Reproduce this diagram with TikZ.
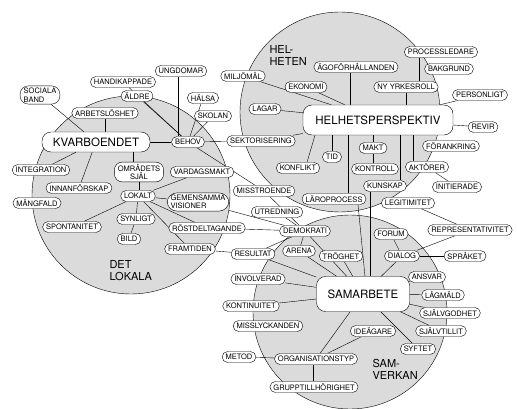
\documentclass[tikz,border=0pt]{standalone}
\usepackage{fontspec}
\setmainfont{TeX Gyre Heros}
\pgfdeclarelayer{back}
\pgfdeclarelayer{wires}
\pgfsetlayers{back,wires,main}

\begin{document}
\begin{tikzpicture}[x=1pt, y=-1pt,
    every node/.style={font=\fontsize{7.5}{8.5}\selectfont},
    kw/.style={draw, fill=white, rounded corners=5.5pt, minimum height=11pt, inner xsep=3.5pt, inner ysep=1pt},
    kwtwo/.style={kw, align=left, rounded corners=8pt, inner ysep=2pt},
    hub/.style={draw, fill=white, rounded corners=9pt, font=\fontsize{11.5}{13}\selectfont},
    area/.style={draw, fill=black!14},
    region/.style={anchor=north west, align=left, font=\fontsize{11}{12}\selectfont}]
    \useasboundingbox (0,0) rectangle (517,409);

    % the three areas
    \begin{pgfonlayer}{back}
        \draw[area] (131,195) circle[radius=99pt];
        \draw[area] (340,112) circle[radius=100pt];
        \draw[area] (350,312) circle[radius=97pt];
    \end{pgfonlayer}
    \node[region] at (266,42) {HEL-\\HETEN};
    \node[region] at (106,257) {DET\\LOKALA};
    \node[region] at (369,356) {SAM-\\VERKAN};

    % hubs
    \node[hub, minimum width=108pt, minimum height=20pt] (kvarb) at (96,142) {KVARBOENDET};
    \node[hub, minimum width=150pt, minimum height=30pt] (helhet) at (378,120) {HELHETSPERSPEKTIV};
    \node[hub, minimum width=93pt, minimum height=35pt] (samarb) at (363,294) {SAMARBETE};

    % det lokala
    \node[kwtwo] (socband) at (40,95) {SOCIALA\\BAND};
    \node[kw] (handik) at (123,82) {HANDIKAPPADE};
    \node[kw] (ungdom) at (181,71) {UNGDOMAR};
    \node[kw] (aldre) at (137,96) {ÄLDRE};
    \node[kw] (halsa) at (203,98) {HÄLSA};
    \node[kw] (skolan) at (213,116) {SKOLAN};
    \node[kw] (arbets) at (105,113) {ARBETSLÖSHET};
    \node[kw] (behov) at (188,142) {BEHOV};
    \node[kw] (sektor) at (261,141) {SEKTORISERING};
    \node[kw] (integr) at (41,170) {INTEGRATION};
    \node[kw] (innanf) at (79,188) {INNANFÖRSKAP};
    \node[kw] (mangf) at (37,203) {MÅNGFALD};
    \node[kwtwo, align=center] (omrade) at (139,172) {OMRÅDETS\\SJÄL};
    \node[kw] (lokalt) at (138,196) {LOKALT};
    \node[kw] (vardag) at (202,172) {VARDAGSMAKT};
    \node[kwtwo, rounded corners=10pt] (gemens) at (198,202) {GEMENSAMMA\\VISIONER};
    \node[kw] (synligt) at (136,219) {SYNLIGT};
    \node[kw] (sponta) at (72,227) {SPONTANITET};
    \node[kw] (bild) at (129,239) {BILD};
    \node[kw] (rostd) at (207,228) {RÖSTDELTAGANDE};
    \node[kw] (framt) at (190,249) {FRAMTIDEN};
    \node[kw] (misstro) at (264,191) {MISSTROENDE};
    \node[kw] (utredn) at (277,212) {UTREDNING};

    % helheten
    \node[kw] (miljo) at (243,76) {MILJÖMÅL};
    \node[kw] (agofor) at (356,67) {ÄGOFÖRHÅLLANDEN};
    \node[kw] (process) at (441,52) {PROCESSLEDARE};
    \node[kw] (bakgr) at (449,69) {BAKGRUND};
    \node[kw] (ekonomi) at (306,87) {EKONOMI};
    \node[kw] (nyyrk) at (406,87) {NY YRKESROLL};
    \node[kw] (person) at (480,95) {PERSONLIGT};
    \node[kw] (lagar) at (265,109) {LAGAR};
    \node[kw] (revir) at (483,127) {REVIR};
    \node[kw] (tid) at (332,157) {TID};
    \node[kw] (konfl) at (298,168) {KONFLIKT};
    \node[kw] (makt) at (373,148) {MAKT};
    \node[kw] (kontr) at (375,169) {KONTROLL};
    \node[kw] (forank) at (451,146) {FÖRANKRING};
    \node[kw] (aktor) at (427,167) {AKTÖRER};
    \node[kw] (initier) at (457,187) {INITIERADE};
    \node[kw] (kunskap) at (385,186) {KUNSKAP};
    \node[kw] (laro) at (334,199) {LÄROPROCESS};
    \node[kw] (legit) at (408,203) {LEGITIMITET};

    % samverkan
    \node[kw] (demokr) at (305,231) {DEMOKRATI};
    \node[kw] (forum) at (391,234) {FORUM};
    \node[kw] (repr) at (470,230) {REPRESENTATIVITET};
    \node[kw] (dialog) at (402,256) {DIALOG};
    \node[kw] (sprak) at (465,256) {SPRÅKET};
    \node[kw] (result) at (253,254) {RESULTAT};
    \node[kw] (arena) at (299,251) {ARENA};
    \node[kw] (trog) at (341,256) {TRÖGHET};
    \node[kw] (involv) at (258,279) {INVOLVERAD};
    \node[kw] (kontin) at (251,306) {KONTINUITET};
    \node[kw] (misslyck) at (268,326) {MISSLYCKANDEN};
    \node[kw] (metod) at (239,357) {METOD};
    \node[kw] (organ) at (316,359) {ORGANISATIONSTYP};
    \node[kw] (grupp) at (314,387) {GRUPPTILLHÖRIGHET};
    \node[kw] (ideag) at (373,331) {IDEÄGARE};
    \node[kw] (ansvar) at (427,277) {ANSVAR};
    \node[kw] (lagmald) at (443,295) {LÅGMÄLD};
    \node[kw] (sjalvg) at (450,313) {SJÄLVGODHET};
    \node[kw] (sjalvt) at (441,331) {SJÄLVTILLIT};
    \node[kw] (syftet) at (418,349) {SYFTET};

    \begin{pgfonlayer}{wires}
        % straight drops: upper node, lower node, shift from upper centre
        \foreach \a/\b/\s in {arbets/kvarb/0, ungdom/behov/-3, agofor/helhet/-6,
                nyyrk/helhet/0, process/nyyrk/-22, makt/kontr/0, omrade/lokalt/0,
                organ/grupp/-3, kvarb/omrade/37, helhet/tid/-46, helhet/makt/-5,
                helhet/laro/-30, helhet/kunskap/22, helhet/aktor/35,
                kunskap/samarb/-15}
            \draw ([xshift=\s pt]\a.center |- \a.south) -- ([xshift=\s pt]\a.center |- \b.north);
        \draw ([xshift=9pt]konfl.north) -- ([xshift=-63pt]helhet.south);
        \draw ([xshift=24pt]laro.south) -- ([xshift=2pt]samarb.north);
        \foreach \a/\b in {socband/kvarb, kvarb/behov, kvarb/integr, kvarb/innanf,
                lokalt/vardag, lokalt/gemens, lokalt/synligt, lokalt/sponta,
                lokalt/rostd, lokalt/framt, synligt/bild,
                behov/handik, behov/aldre, behov/halsa, behov/skolan,
                behov/sektor, behov/misstro,
                sektor/helhet, miljo/helhet, lagar/helhet, ekonomi/helhet,
                person/helhet, revir/helhet, aktor/initier, legit/repr,
                repr/dialog, dialog/sprak, dialog/forum, dialog/samarb,
                misstro/demokr, utredn/demokr, gemens/demokr, rostd/demokr,
                demokr/arena, demokr/result, demokr/samarb, result/framt,
                result/samarb, arena/samarb, trog/samarb, involv/samarb,
                kontin/samarb, samarb/organ, organ/ideag, organ/metod,
                samarb/ansvar, samarb/lagmald, samarb/sjalvg, samarb/sjalvt,
                samarb/syftet}
            \draw (\a) -- (\b);
    \end{pgfonlayer}
\end{tikzpicture}
\end{document}
